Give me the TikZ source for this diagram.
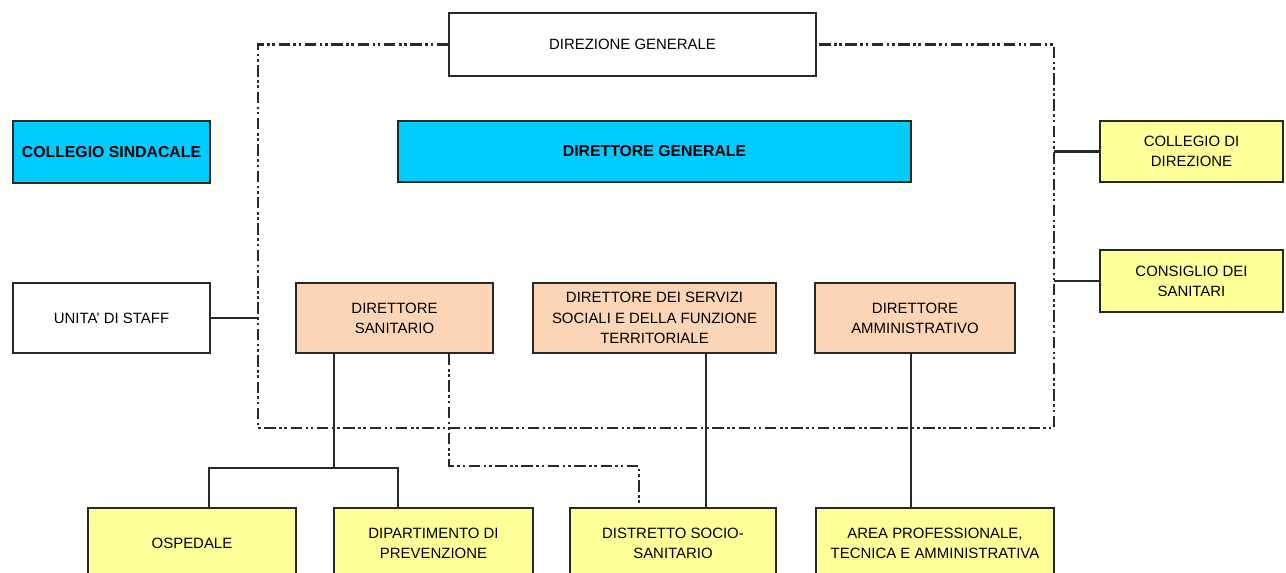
\documentclass[tikz,border=0pt]{standalone}
\usepackage{fontspec}
\setmainfont{Liberation Sans}
\definecolor{cyanbox}{RGB}{0,204,255}
\definecolor{yellowbox}{RGB}{255,255,153}
\definecolor{peachbox}{RGB}{251,213,181}
\definecolor{edge}{RGB}{40,40,40}
\begin{document}
\begin{tikzpicture}[x=0.02cm,y=-0.02cm,
  box/.style={draw=edge,line width=1.1pt,align=center,inner sep=1pt,
    font=\fontsize{8.5}{11.5}\selectfont},
  boldbox/.style={box,fill=cyanbox,font=\fontsize{9}{11}\selectfont\bfseries},
  ybox/.style={box,fill=yellowbox},
  pbox/.style={box,fill=peachbox},
  wbox/.style={box,fill=white},
  solidlink/.style={draw=edge,line width=1.2pt},
  dashlink/.style={draw=edge,line width=1.5pt,
    dash pattern=on 6.5pt off 2pt on 1.5pt off 1.5pt on 1.5pt off 2pt}
]
\useasboundingbox (0,0) rectangle (1286,573);
\clip (0,0) rectangle (1286,573);
\fill[white] (0,0) rectangle (1286,573);

% nodes
\node[wbox,minimum width=7.34cm,minimum height=1.26cm] (dirgen) at (632.5,44.5) {DIREZIONE GENERALE};
\node[boldbox,minimum width=3.94cm,minimum height=1.24cm] (colsind) at (111.5,152) {COLLEGIO SINDACALE};
\node[boldbox,minimum width=10.26cm,minimum height=1.22cm] (dirgenerale) at (654.5,151.5) {DIRETTORE GENERALE};
\node[ybox,minimum width=3.66cm,minimum height=1.22cm] (coldir) at (1191.5,151.5) {COLLEGIO DI\\DIREZIONE};
\node[ybox,minimum width=3.66cm,minimum height=1.24cm] (consan) at (1191.5,281) {CONSIGLIO DEI\\SANITARI};
\node[wbox,minimum width=3.94cm,minimum height=1.40cm] (staff) at (111.5,318) {UNITA' DI STAFF};
\node[pbox,minimum width=3.94cm,minimum height=1.40cm] (dirsan) at (394.5,318) {DIRETTORE\\SANITARIO};
\node[pbox,minimum width=4.86cm,minimum height=1.40cm] (dirsoc) at (654.5,318) {DIRETTORE DEI SERVIZI\\SOCIALI E DELLA FUNZIONE\\TERRITORIALE};
\node[pbox,minimum width=4.0cm,minimum height=1.40cm] (diramm) at (915,318) {DIRETTORE\\AMMINISTRATIVO};
\node[ybox,minimum width=4.16cm,minimum height=1.40cm] (osp) at (192,543) {OSPEDALE};
\node[ybox,minimum width=3.98cm,minimum height=1.40cm] (dipprev) at (433.5,543) {DIPARTIMENTO DI\\PREVENZIONE};
\node[ybox,minimum width=4.12cm,minimum height=1.40cm] (distr) at (673,543) {DISTRETTO SOCIO-\\SANITARIO};
\node[ybox,minimum width=4.76cm,minimum height=1.40cm] (area) at (935,543) {AREA PROFESSIONALE,\\TECNICA E AMMINISTRATIVA};

% frame corners and junctions
\coordinate (fTL) at (258,44.5);
\coordinate (fTR) at (1054,44.5);
\coordinate (fBL) at (258,428);
\coordinate (fBR) at (1054,428);
\coordinate (sj) at (334,468);
\coordinate (b1) at (209,468);
\coordinate (b2) at (398,468);
\coordinate (dj1) at (449,466);
\coordinate (dj2) at (639,466);
\coordinate (socx) at (706,400);
\coordinate (ammx) at (911,400);

% dash-dot frame
\draw[dashlink] (dirgen.west) -- (fTL) -- (fBL) -- (fBR) -- (fTR) -- (dirgen.east);

% side connectors
\draw[solidlink] (staff.east) -- (staff.east -| fBL);
\draw[solidlink] (coldir.west) -- (coldir.west -| fTR);
\draw[solidlink] (consan.west) -- (consan.west -| fTR);

% direttore sanitario tree
\draw[solidlink] (sj |- dirsan.south) -- (sj);
\draw[solidlink] (b1 |- osp.north) -- (b1) -- (b2) -- (b2 |- dipprev.north);
\draw[dashlink] (dj1 |- dirsan.south) -- (dj1) -- (dj2) -- (dj2 |- distr.north);

% other vertical links
\draw[solidlink] (socx |- dirsoc.south) -- (socx |- distr.north);
\draw[solidlink] (ammx |- diramm.south) -- (ammx |- area.north);
\end{tikzpicture}
\end{document}
